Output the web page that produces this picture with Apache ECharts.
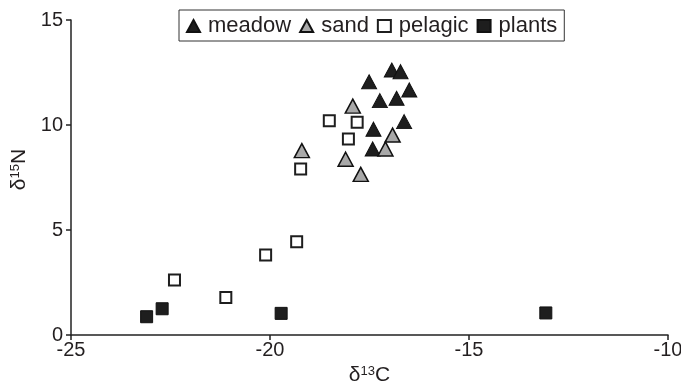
<!DOCTYPE html>
<html><head><meta charset="utf-8">
<script src="https://cdn.jsdelivr.net/npm/echarts@6/dist/echarts.min.js"></script>
<style>html,body{margin:0;padding:0;background:#fff}#c{width:681px;height:387px}</style>
</head><body><div id="c"></div>
<script>
const seriesNames = ['meadow', 'sand', 'pelagic', 'plants'];
const meadow = [[-16.94,12.62],[-16.72,12.54],[-17.51,12.06],[-16.50,11.67],[-17.24,11.16],[-16.82,11.27],[-16.63,10.16],[-17.40,9.80],[-17.42,8.86]];
const sand = [[-17.92,10.90],[-16.92,9.52],[-17.10,8.86],[-19.20,8.78],[-18.10,8.37],[-17.72,7.65]];
const pelagic = [[-18.51,10.20],[-17.81,10.13],[-18.03,9.33],[-19.23,7.90],[-19.33,4.44],[-20.11,3.81],[-22.40,2.62],[-21.11,1.78]];
const plants = [[-23.10,0.87],[-22.71,1.25],[-19.72,1.03],[-13.07,1.05]];
const xTicks = [-25, -20, -15, -10];
const yTicks = [0, 5, 10, 15];

const txt = '#231f20';
const font = 'Liberation Sans, Arial, Helvetica, sans-serif';
const chart = echarts.init(document.getElementById('c'));
chart.setOption({
  animation: false,
  textStyle: {fontFamily: font, color: txt},
  grid: {left: 71, right: 13, top: 20, bottom: 52, containLabel: false, outerBoundsMode: 'none'},
  legend: {
    left: 179, top: 10,
    data: seriesNames,
    borderColor: '#333', borderWidth: 1, padding: [5, 7, 4, 7],
    itemGap: 8, itemWidth: 13, itemHeight: 12,
    textStyle: {fontSize: 22, color: txt, fontFamily: font, padding: [0, 0, 0, 3]}
  },
  xAxis: {
    type: 'value', min: xTicks[0], max: xTicks[xTicks.length-1], interval: 5,
    splitLine: {show: false},
    axisLine: {onZero: false, lineStyle: {color: '#222', width: 1.5}},
    axisTick: {length: 5, lineStyle: {color: '#222', width: 1.5}},
    axisLabel: {fontSize: 20, color: txt, margin: 5},
    name: '{a|δ}{s|13}{a|C}', nameLocation: 'middle', nameGap: 29,
    nameTextStyle: {rich: {a: {fontSize: 21, color: txt, fontFamily: font}, s: {fontSize: 13, color: txt, fontFamily: font, verticalAlign: 'top'}}}
  },
  yAxis: {
    type: 'value', min: yTicks[0], max: yTicks[yTicks.length-1], interval: 5,
    splitLine: {show: false},
    axisLine: {onZero: false, lineStyle: {color: '#222', width: 1.5}},
    axisTick: {length: 5, lineStyle: {color: '#222', width: 1.5}},
    axisLabel: {fontSize: 20, color: txt, margin: 8},
    name: '{a|δ}{s|15}{a|N}', nameLocation: 'middle', nameGap: 38,
    nameTextStyle: {padding: [0, 0, 0, 16], rich: {a: {fontSize: 21, color: txt, fontFamily: font}, s: {fontSize: 13, color: txt, fontFamily: font, verticalAlign: 'top'}}}
  },
  series: [
    {name: 'meadow', type: 'scatter', data: meadow, symbol: 'triangle', symbolSize: [15, 14],
     itemStyle: {color: '#1e1e1e', borderColor: '#111', borderWidth: 1, opacity: 1}},
    {name: 'sand', type: 'scatter', data: sand, symbol: 'triangle', symbolSize: [15, 14],
     itemStyle: {color: '#a8a8a8', borderColor: '#111', borderWidth: 1.5, opacity: 1}},
    {name: 'pelagic', type: 'scatter', data: pelagic, symbol: 'rect', symbolSize: 11,
     itemStyle: {color: '#fff', borderColor: '#1e1e1e', borderWidth: 2, opacity: 1}},
    {name: 'plants', type: 'scatter', data: plants, symbol: 'rect', symbolSize: 12,
     itemStyle: {color: '#1e1e1e', borderColor: '#111', borderWidth: 1, opacity: 1}}
  ]
});
</script></body></html>
